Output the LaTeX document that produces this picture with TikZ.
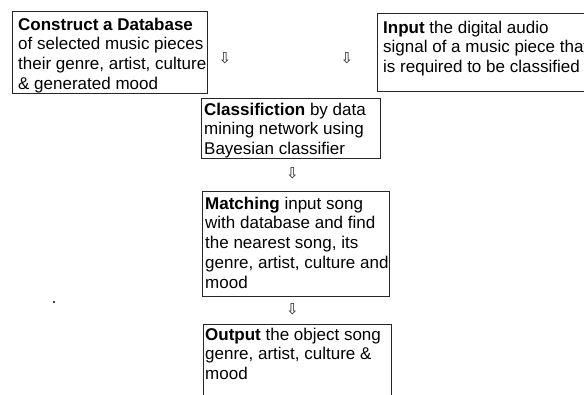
\documentclass[tikz,border=0pt]{standalone}
\usepackage{fontspec}
\setmainfont{Liberation Sans}
\newfontfamily\symfont{DejaVu Sans}
\begin{document}
\begin{tikzpicture}[x=1pt,y=-1pt,
  box/.style={draw=black!85, line width=0.9pt, inner sep=0, anchor=north west},
  txt/.style={anchor=north west, inner sep=0, align=left, text=black,
    font=\fontsize{17}{19.8}\selectfont},
  arr/.style={inner sep=0, text=black!85, font=\symfont\fontsize{15}{15}\selectfont}]
\useasboundingbox (0,0) rectangle (584,394);
\clip (0,0) rectangle (584,394);
% boxes
\node[box, minimum width=195, minimum height=82] (db) at (12,11) {};
\node[box, minimum width=230, minimum height=78] (in) at (377,13) {};
\node[box, minimum width=179, minimum height=60] (cls) at (201,98) {};
\node[box, minimum width=187, minimum height=105] (mat) at (202,191) {};
\node[box, minimum width=188, minimum height=90] (out) at (203,324) {};
% texts
\node[txt] (dbt) at (18,17.6) {\textbf{Construct a Database}\\of selected music pieces\\their genre, artist, culture\\\& generated mood};
\node[txt] (int) at (383,20.6) {\textbf{Input} the digital audio\\signal of a music piece that\\is required to be classified};
\node[txt] (clst) at (204,102.6) {\textbf{Classifiction} by data\\mining network using\\Bayesian classifier};
\node[txt] (matt) at (205,196.6) {\textbf{Matching} input song\\with database and find\\the nearest song, its\\genre, artist, culture and\\mood};
\node[txt] (outt) at (205,327.6) {\textbf{Output} the object song\\genre, artist, culture \&\\mood};
% arrows
\node[arr] (a1) at (225,58) {⇩};
\node[arr] (a2) at (347,58) {⇩};
\node[arr] (a3) at (292.5,173) {⇩};
\node[arr] (a4) at (292.5,309) {⇩};
% stray dot
\fill[black] (54,302) circle (1.2);
\end{tikzpicture}
\end{document}
